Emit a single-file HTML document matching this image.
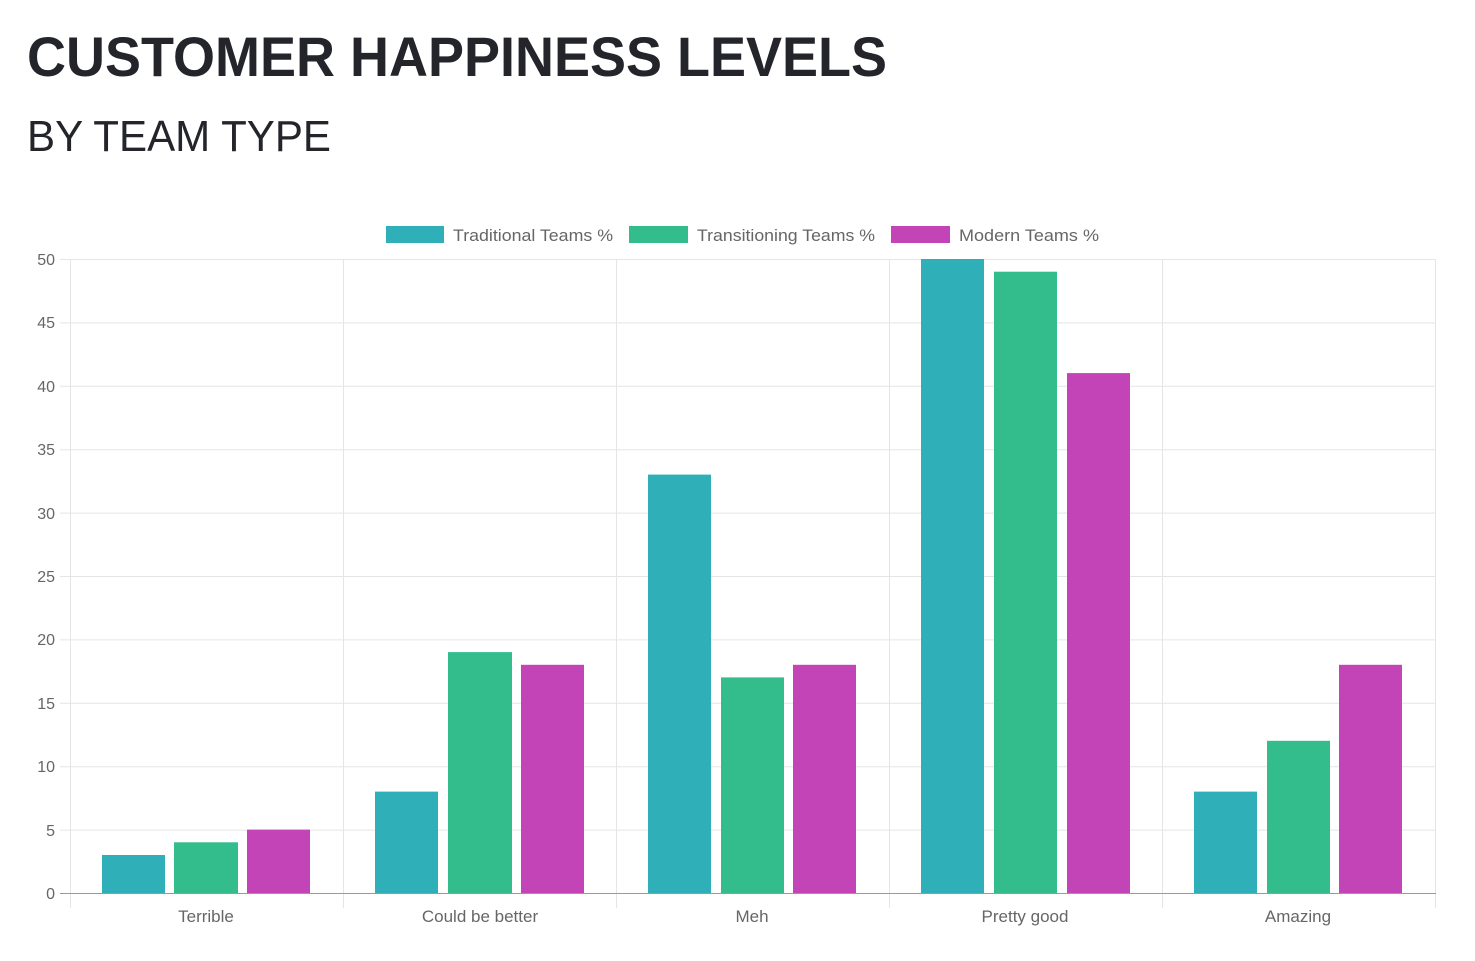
<!DOCTYPE html>
<html><head><style>
html,body{margin:0;padding:0;background:#fff;}
svg{display:block;font-family:"Liberation Sans",sans-serif;}
</style></head><body>
<svg width="1475" height="961" viewBox="0 0 1475 961" xmlns="http://www.w3.org/2000/svg">
<text x="27" y="76" font-size="56" font-weight="bold" fill="#23252b" textLength="860" lengthAdjust="spacingAndGlyphs">CUSTOMER HAPPINESS LEVELS</text>
<text x="27" y="151" font-size="44" fill="#23252b" textLength="304" lengthAdjust="spacingAndGlyphs">BY TEAM TYPE</text>
<!-- legend -->
<rect x="386" y="226" width="58" height="17" fill="#2fb0b8"/>
<text x="453" y="241" font-size="17" fill="#666" textLength="160" lengthAdjust="spacingAndGlyphs">Traditional Teams %</text>
<rect x="629" y="226" width="59" height="17" fill="#33bd8c"/>
<text x="697" y="241" font-size="17" fill="#666" textLength="178" lengthAdjust="spacingAndGlyphs">Transitioning Teams %</text>
<rect x="891" y="226" width="59" height="17" fill="#c344b7"/>
<text x="959" y="241" font-size="17" fill="#666" textLength="140" lengthAdjust="spacingAndGlyphs">Modern Teams %</text>
<!-- grid -->
<g stroke="#e5e5e5" stroke-width="1">
<line x1="60" x2="1436" y1="259.5" y2="259.5"/>
<line x1="60" x2="1436" y1="322.9" y2="322.9"/>
<line x1="60" x2="1436" y1="386.3" y2="386.3"/>
<line x1="60" x2="1436" y1="449.7" y2="449.7"/>
<line x1="60" x2="1436" y1="513.1" y2="513.1"/>
<line x1="60" x2="1436" y1="576.5" y2="576.5"/>
<line x1="60" x2="1436" y1="639.9" y2="639.9"/>
<line x1="60" x2="1436" y1="703.3" y2="703.3"/>
<line x1="60" x2="1436" y1="766.7" y2="766.7"/>
<line x1="60" x2="1436" y1="830.1" y2="830.1"/>
<line x1="70.5" x2="70.5" y1="259" y2="908"/>
<line x1="343.5" x2="343.5" y1="259" y2="908"/>
<line x1="616.5" x2="616.5" y1="259" y2="908"/>
<line x1="889.5" x2="889.5" y1="259" y2="908"/>
<line x1="1162.5" x2="1162.5" y1="259" y2="908"/>
<line x1="1435.5" x2="1435.5" y1="259" y2="908"/>
</g>
<line x1="60" x2="1436" y1="893.5" y2="893.5" stroke="#999" stroke-width="1"/>
<!-- y labels -->
<g font-size="16" fill="#666" text-anchor="end">
<text x="55" y="265">50</text><text x="55" y="328">45</text><text x="55" y="392">40</text>
<text x="55" y="455">35</text><text x="55" y="519">30</text><text x="55" y="582">25</text>
<text x="55" y="645">20</text><text x="55" y="709">15</text><text x="55" y="772">10</text>
<text x="55" y="836">5</text><text x="55" y="899">0</text>
</g>
<g>
<rect x="102" y="855" width="63" height="38" fill="#2fb0b8"/>
<rect x="174" y="842.3" width="64" height="50.7" fill="#33bd8c"/>
<rect x="247" y="829.6" width="63" height="63.4" fill="#c344b7"/>

<rect x="375" y="791.6" width="63" height="101.4" fill="#2fb0b8"/>
<rect x="448" y="652.1" width="64" height="240.9" fill="#33bd8c"/>
<rect x="521" y="664.8" width="63" height="228.2" fill="#c344b7"/>

<rect x="648" y="474.6" width="63" height="418.4" fill="#2fb0b8"/>
<rect x="721" y="677.4" width="63" height="215.6" fill="#33bd8c"/>
<rect x="793" y="664.8" width="63" height="228.2" fill="#c344b7"/>

<rect x="921" y="259" width="63" height="634" fill="#2fb0b8"/>
<rect x="994" y="271.7" width="63" height="621.3" fill="#33bd8c"/>
<rect x="1067" y="373.1" width="63" height="519.9" fill="#c344b7"/>

<rect x="1194" y="791.6" width="63" height="101.4" fill="#2fb0b8"/>
<rect x="1267" y="740.8" width="63" height="152.2" fill="#33bd8c"/>
<rect x="1339" y="664.8" width="63" height="228.2" fill="#c344b7"/>
</g>
<g font-size="17" fill="#666" text-anchor="middle">
<text x="206" y="922">Terrible</text>
<text x="480" y="922">Could be better</text>
<text x="752" y="922">Meh</text>
<text x="1025" y="922">Pretty good</text>
<text x="1298" y="922">Amazing</text>
</g>
</svg>
</body></html>
